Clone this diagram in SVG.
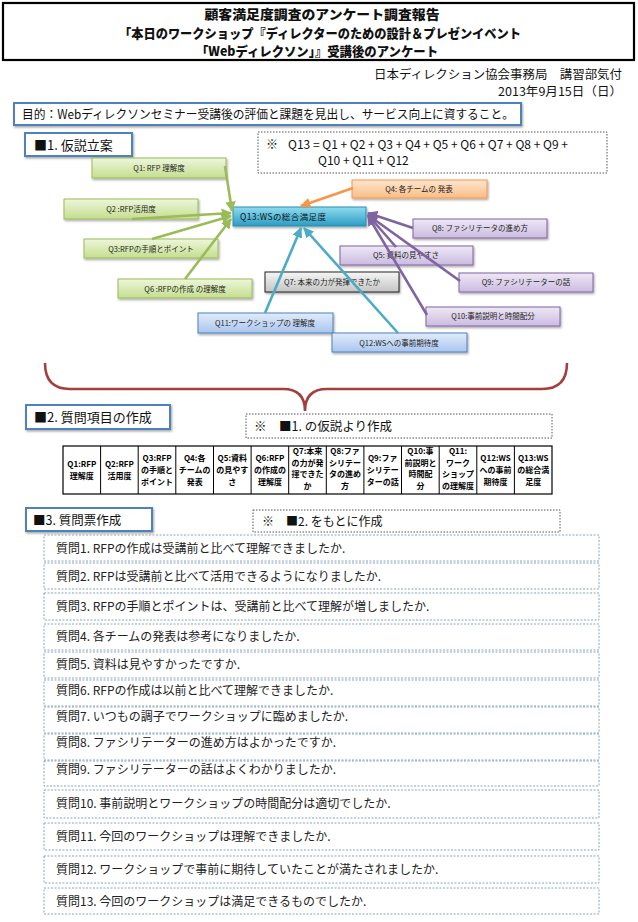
<svg xmlns="http://www.w3.org/2000/svg" width="638" height="922" viewBox="0 0 638 922">
<defs>
<style>
text{font-family:"Noto Sans CJK JP","Liberation Sans",sans-serif;fill:#111}
.title{font-size:12.7px;font-weight:900;text-anchor:middle}
.lbl{fill:#fff;stroke:#4f81bd;stroke-width:2}
.note{fill:#fff;stroke:#555;stroke-width:1;stroke-dasharray:1.5 1.5}
.qbox{fill:#fff;stroke:#8aa4bd;stroke-width:1;stroke-dasharray:2 1.5}
.qt{font-size:12px;fill:#222}
.nt{font-size:7.5px;text-anchor:middle;fill:#222}
.tc{font-size:8px;font-weight:700;text-anchor:middle;fill:#000}
.cg{stroke:#9bbb59}.co{stroke:#f79646}.cp{stroke:#8064a2}.cb{stroke:#4bacc6}
.conn line{stroke-width:2.6;fill:none}
</style>
<linearGradient id="gGreen" x1="0" y1="0" x2="0" y2="1"><stop offset="0" stop-color="#eef6dc"/><stop offset="1" stop-color="#c4de8e"/></linearGradient>
<linearGradient id="gTeal" x1="0" y1="0" x2="0" y2="1"><stop offset="0" stop-color="#8fdcf0"/><stop offset="1" stop-color="#2a9cc2"/></linearGradient>
<linearGradient id="gOrange" x1="0" y1="0" x2="0" y2="1"><stop offset="0" stop-color="#fde6d0"/><stop offset="1" stop-color="#f9bd85"/></linearGradient>
<linearGradient id="gPurple" x1="0" y1="0" x2="0" y2="1"><stop offset="0" stop-color="#eee8f5"/><stop offset="1" stop-color="#cbbbe0"/></linearGradient>
<linearGradient id="gGray" x1="0" y1="0" x2="0" y2="1"><stop offset="0" stop-color="#f6f6f6"/><stop offset="1" stop-color="#c4c4c4"/></linearGradient>
<linearGradient id="gBlue" x1="0" y1="0" x2="0" y2="1"><stop offset="0" stop-color="#e2ecfa"/><stop offset="1" stop-color="#a9c5ee"/></linearGradient>
<filter id="sh" x="-10%" y="-20%" width="120%" height="160%"><feDropShadow dx="1" dy="1.5" stdDeviation="1" flood-color="#000" flood-opacity="0.35"/></filter>
<marker id="aG" viewBox="0 0 10 10" refX="9" refY="5" markerWidth="4" markerHeight="4" orient="auto"><path d="M0,0L10,5L0,10z" fill="#9bbb59"/></marker>
<marker id="aO" viewBox="0 0 10 10" refX="9" refY="5" markerWidth="4" markerHeight="4" orient="auto"><path d="M0,0L10,5L0,10z" fill="#f79646"/></marker>
<marker id="aP" viewBox="0 0 10 10" refX="9" refY="5" markerWidth="4" markerHeight="4" orient="auto"><path d="M0,0L10,5L0,10z" fill="#8064a2"/></marker>
<marker id="aB" viewBox="0 0 10 10" refX="9" refY="5" markerWidth="4" markerHeight="4" orient="auto"><path d="M0,0L10,5L0,10z" fill="#4bacc6"/></marker>
</defs>
<rect width="638" height="922" fill="#fff"/>

<g id="header">
<rect x="3" y="3" width="631" height="57" fill="#fff" stroke="#000" stroke-width="2.2"/>
<text class="title" x="322" y="19" textLength="235" lengthAdjust="spacingAndGlyphs">顧客満足度調査のアンケート調査報告</text>
<text class="title" x="320" y="37.5" textLength="402" lengthAdjust="spacingAndGlyphs">「本日のワークショップ『ディレクターのための設計＆プレゼンイベント</text>
<text class="title" x="317" y="56" textLength="242" lengthAdjust="spacingAndGlyphs">「Webディレクソン」』受講後のアンケート</text>
</g>

<g id="sender">
<text x="622" y="79" font-size="12" text-anchor="end" textLength="248" lengthAdjust="spacingAndGlyphs">日本ディレクション協会事務局　講習部気付</text>
<text x="622" y="96" font-size="12" text-anchor="end" textLength="124" lengthAdjust="spacingAndGlyphs">2013年9月15日（日）</text>
</g>

<g id="purpose">
<rect x="14" y="103" width="507" height="22" class="lbl" filter="url(#sh)"/>
<text x="22" y="119" font-size="12.5" textLength="492" lengthAdjust="spacingAndGlyphs">目的：Webディレクソンセミナー受講後の評価と課題を見出し、サービス向上に資すること。</text>
</g>

<g id="sec1">
<rect x="25" y="133" width="107" height="23" class="lbl" filter="url(#sh)"/>
<text x="34" y="150" font-size="13">■1. 仮説立案</text>
</g>

<g id="formula">
<rect x="258" y="132" width="349" height="41" class="note"/>
<text x="266" y="149" font-size="12">※</text>
<text x="288" y="149" font-size="12" font-family="Liberation Sans">Q13 = Q1 + Q2 + Q3 + Q4 + Q5 + Q6 + Q7 + Q8 + Q9 +</text>
<text x="318" y="165" font-size="12" font-family="Liberation Sans">Q10 + Q11 + Q12</text>
</g>

<g id="n-q1"><rect x="92" y="158" width="134" height="20" fill="url(#gGreen)" stroke="#9bbb59" filter="url(#sh)"/><text class="nt" x="159" y="171">Q1: RFP 理解度</text></g>
<g id="n-q2"><rect x="64" y="199" width="134" height="20" fill="url(#gGreen)" stroke="#9bbb59" filter="url(#sh)"/><text class="nt" x="131" y="212">Q2 :RFP活用度</text></g>
<g id="n-q3"><rect x="84" y="239" width="134" height="19" fill="url(#gGreen)" stroke="#9bbb59" filter="url(#sh)"/><text class="nt" x="151" y="252">Q3:RFPの手順とポイント</text></g>
<g id="n-q6"><rect x="118" y="279" width="134" height="19" fill="url(#gGreen)" stroke="#9bbb59" filter="url(#sh)"/><text class="nt" x="185" y="292">Q6 :RFPの作成 の理解度</text></g>
<g id="n-q4"><rect x="352" y="180" width="135" height="18" fill="url(#gOrange)" stroke="#f79646" filter="url(#sh)"/><text class="nt" x="419" y="192">Q4: 各チームの 発表</text></g>
<g id="n-q8"><rect x="413" y="219" width="134" height="19" fill="url(#gPurple)" stroke="#8064a2" filter="url(#sh)"/><text class="nt" x="480" y="231">Q8: ファシリテータの進め方</text></g>
<g id="n-q5"><rect x="340" y="246" width="133" height="19" fill="url(#gPurple)" stroke="#8064a2" filter="url(#sh)"/><text class="nt" x="406" y="258">Q5: 資料の見やすさ</text></g>
<g id="n-q9"><rect x="459" y="273" width="134" height="19" fill="url(#gPurple)" stroke="#8064a2" filter="url(#sh)"/><text class="nt" x="526" y="285">Q9: ファシリテーターの話</text></g>
<g id="n-q10"><rect x="426" y="307" width="134" height="19" fill="url(#gPurple)" stroke="#8064a2" filter="url(#sh)"/><text class="nt" x="493" y="319">Q10:事前説明と時間配分</text></g>
<g id="n-q7"><rect x="265" y="272" width="134" height="20" fill="url(#gGray)" stroke="#222" filter="url(#sh)"/><text class="nt" x="332" y="285">Q7: 本来の力が発揮できたか</text></g>
<g id="n-q11"><rect x="198" y="313" width="135" height="20" fill="url(#gBlue)" stroke="#4f81bd" filter="url(#sh)"/><text class="nt" x="265" y="326">Q11:ワークショップの 理解度</text></g>
<g id="n-q12"><rect x="332" y="333" width="135" height="19" fill="url(#gBlue)" stroke="#4f81bd" filter="url(#sh)"/><text class="nt" x="399" y="346">Q12:WSへの事前期待度</text></g>
<g id="n-q13"><rect x="233" y="207" width="133" height="19" fill="url(#gTeal)" stroke="#2b8db0" filter="url(#sh)"/><text x="240" y="220" font-size="8.5" fill="#0b2633" letter-spacing="0.4">Q13:WSの総合満足度</text></g>

<g id="connectors" class="conn">
<line class="cg" x1="225" y1="166" x2="232" y2="211" marker-end="url(#aG)"/>
<line class="cg" x1="132" y1="219" x2="231" y2="213" marker-end="url(#aG)"/>
<line class="cg" x1="152" y1="239" x2="231" y2="216" marker-end="url(#aG)"/>
<line class="cg" x1="185" y1="279" x2="231" y2="219" marker-end="url(#aG)"/>
<line class="co" x1="353" y1="188" x2="301" y2="206" marker-end="url(#aO)"/>
<line class="cp" x1="413" y1="228" x2="368" y2="213" marker-end="url(#aP)"/>
<line class="cp" x1="396" y1="247" x2="368" y2="215" marker-end="url(#aP)"/>
<line class="cp" x1="460" y1="281" x2="368" y2="215" marker-end="url(#aP)"/>
<line class="cp" x1="427" y1="315" x2="368" y2="216" marker-end="url(#aP)"/>
<line class="cb" x1="265" y1="313" x2="301" y2="228" marker-end="url(#aB)"/>
<line class="cb" x1="398" y1="333" x2="304" y2="228" marker-end="url(#aB)"/>
</g>

<g id="brace">
<path d="M45,363 Q45,389 70,389 L283,389 Q305,389 305,411 Q305,389 327,389 L542,389 Q567,389 567,363" fill="none" stroke="#a3403d" stroke-width="2.6"/>
</g>

<g id="sec2">
<rect x="26" y="405" width="144" height="24" class="lbl" filter="url(#sh)"/>
<text x="34" y="422" font-size="13">■2. 質問項目の作成</text>
</g>
<g id="note2">
<rect x="246" y="414" width="306" height="24" class="note"/>
<text x="254" y="431" font-size="12.5">※　■1. の仮説より作成</text>
</g>

<g id="table">
<rect x="63" y="446" width="489" height="48" fill="#fff" stroke="#000" stroke-width="1.2"/>
<g stroke="#000" stroke-width="1">
<line x1="100.6" y1="446" x2="100.6" y2="494"/><line x1="138.2" y1="446" x2="138.2" y2="494"/><line x1="175.8" y1="446" x2="175.8" y2="494"/><line x1="213.5" y1="446" x2="213.5" y2="494"/><line x1="251.1" y1="446" x2="251.1" y2="494"/><line x1="288.7" y1="446" x2="288.7" y2="494"/><line x1="326.3" y1="446" x2="326.3" y2="494"/><line x1="363.9" y1="446" x2="363.9" y2="494"/><line x1="401.5" y1="446" x2="401.5" y2="494"/><line x1="439.2" y1="446" x2="439.2" y2="494"/><line x1="476.8" y1="446" x2="476.8" y2="494"/><line x1="514.4" y1="446" x2="514.4" y2="494"/>
</g>
<text class="tc" x="81.8" y="467">Q1:RFP</text><text class="tc" x="81.8" y="479">理解度</text>
<text class="tc" x="119.4" y="467">Q2:RFP</text><text class="tc" x="119.4" y="479">活用度</text>
<text class="tc" x="157" y="461">Q3:RFP</text><text class="tc" x="157" y="473">の手順と</text><text class="tc" x="157" y="485">ポイント</text>
<text class="tc" x="194.7" y="461">Q4:各</text><text class="tc" x="194.7" y="473">チームの</text><text class="tc" x="194.7" y="485">発表</text>
<text class="tc" x="232.3" y="461">Q5:資料</text><text class="tc" x="232.3" y="473">の見やす</text><text class="tc" x="232.3" y="485">さ</text>
<text class="tc" x="269.9" y="461">Q6:RFP</text><text class="tc" x="269.9" y="473">の作成の</text><text class="tc" x="269.9" y="485">理解度</text>
<text class="tc" x="307.5" y="454">Q7:本来</text><text class="tc" x="307.5" y="465.7">の力が発</text><text class="tc" x="307.5" y="477.4">揮できた</text><text class="tc" x="307.5" y="489.1">か</text>
<text class="tc" x="345.1" y="454">Q8:ファ</text><text class="tc" x="345.1" y="465.7">シリテー</text><text class="tc" x="345.1" y="477.4">タの進め</text><text class="tc" x="345.1" y="489.1">方</text>
<text class="tc" x="382.7" y="461">Q9:ファ</text><text class="tc" x="382.7" y="473">シリテー</text><text class="tc" x="382.7" y="485">ターの話</text>
<text class="tc" x="420.4" y="454">Q10:事</text><text class="tc" x="420.4" y="465.7">前説明と</text><text class="tc" x="420.4" y="477.4">時間配</text><text class="tc" x="420.4" y="489.1">分</text>
<text class="tc" x="458" y="454">Q11:</text><text class="tc" x="458" y="465.7">ワーク</text><text class="tc" x="458" y="477.4">ショップ</text><text class="tc" x="458" y="489.1">の理解度</text>
<text class="tc" x="495.6" y="461">Q12:WS</text><text class="tc" x="495.6" y="473">への事前</text><text class="tc" x="495.6" y="485">期待度</text>
<text class="tc" x="533.2" y="461">Q13:WS</text><text class="tc" x="533.2" y="473">の総合満</text><text class="tc" x="533.2" y="485">足度</text>
</g>

<g id="sec3">
<rect x="26" y="508" width="126" height="23" class="lbl" filter="url(#sh)"/>
<text x="33" y="525" font-size="12.5">■3. 質問票作成</text>
</g>
<g id="note3">
<rect x="253" y="510" width="307" height="22" class="note"/>
<text x="262" y="526" font-size="12">※　■2. をもとに作成</text>
</g>

<g id="questions">
<g id="q1"><rect class="qbox" x="44" y="535" width="555" height="26"/><text class="qt" x="56" y="553">質問1. RFPの作成は受講前と比べて理解できましたか.</text></g>
<g id="q2"><rect class="qbox" x="44" y="563" width="555" height="26"/><text class="qt" x="56" y="581">質問2. RFPは受講前と比べて活用できるようになりましたか.</text></g>
<g id="q3"><rect class="qbox" x="44" y="593" width="555" height="27"/><text class="qt" x="56" y="611">質問3. RFPの手順とポイントは、受講前と比べて理解が増しましたか.</text></g>
<g id="q4"><rect class="qbox" x="44" y="624" width="555" height="26"/><text class="qt" x="56" y="641">質問4. 各チームの発表は参考になりましたか.</text></g>
<g id="q5"><rect class="qbox" x="44" y="652" width="555" height="26"/><text class="qt" x="56" y="669">質問5. 資料は見やすかったですか.</text></g>
<g id="q6"><rect class="qbox" x="44" y="680" width="555" height="26"/><text class="qt" x="56" y="695">質問6. RFPの作成は以前と比べて理解できましたか.</text></g>
<g id="q7"><rect class="qbox" x="44" y="707" width="555" height="26"/><text class="qt" x="56" y="721">質問7. いつもの調子でワークショップに臨めましたか.</text></g>
<g id="q8"><rect class="qbox" x="44" y="734" width="555" height="26"/><text class="qt" x="56" y="747">質問8. ファシリテーターの進め方はよかったですか.</text></g>
<g id="q9"><rect class="qbox" x="44" y="761" width="555" height="25"/><text class="qt" x="56" y="774">質問9. ファシリテーターの話はよくわかりましたか.</text></g>
<g id="q10"><rect class="qbox" x="44" y="790" width="555" height="28"/><text class="qt" x="56" y="808">質問10. 事前説明とワークショップの時間配分は適切でしたか.</text></g>
<g id="q11"><rect class="qbox" x="44" y="823" width="555" height="27"/><text class="qt" x="56" y="841">質問11. 今回のワークショップは理解できましたか.</text></g>
<g id="q12"><rect class="qbox" x="44" y="856" width="555" height="27"/><text class="qt" x="56" y="874">質問12. ワークショップで事前に期待していたことが満たされましたか.</text></g>
<g id="q13"><rect class="qbox" x="44" y="888" width="555" height="26"/><text class="qt" x="56" y="906">質問13. 今回のワークショップは満足できるものでしたか.</text></g>
</g>
</svg>
